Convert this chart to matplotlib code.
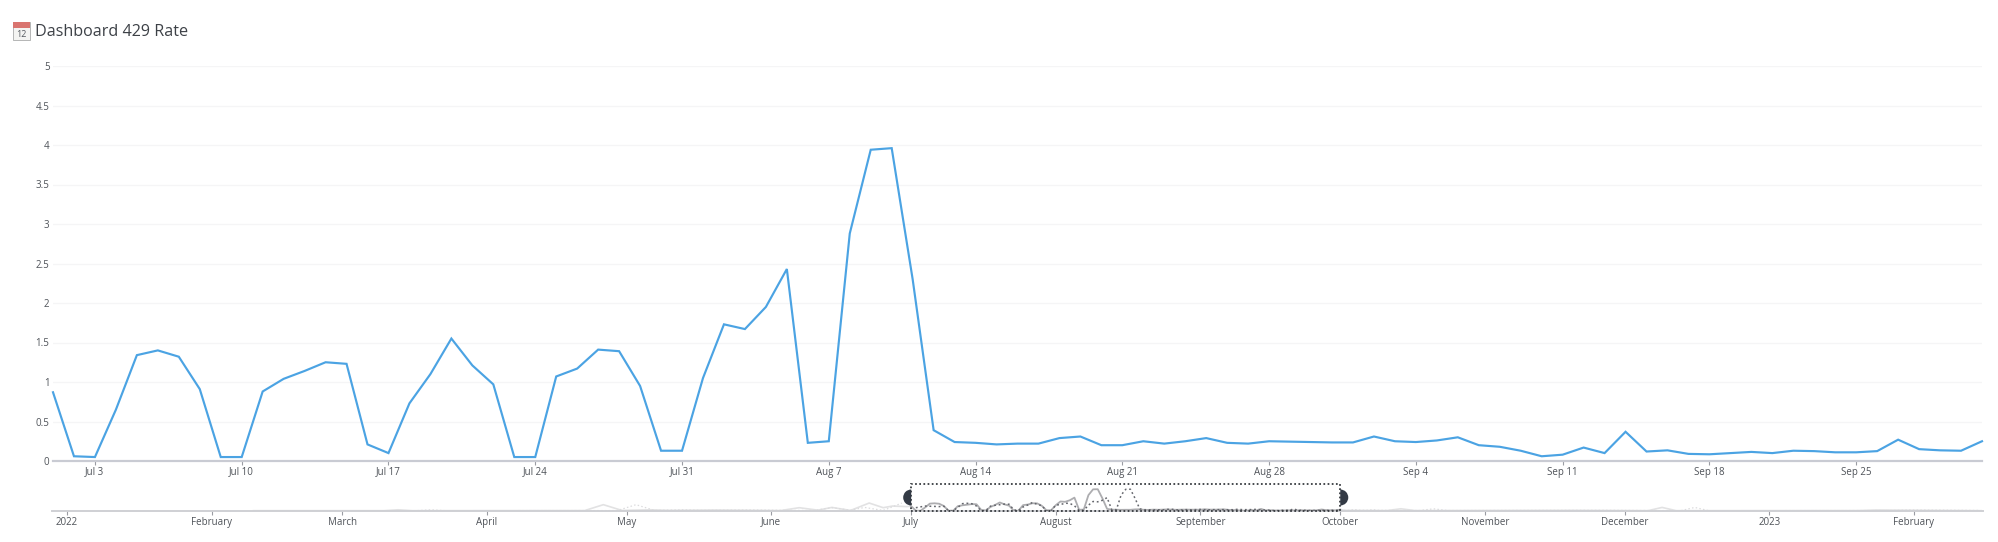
import datetime as dt
import matplotlib
matplotlib.use("Agg")
import matplotlib.pyplot as plt
import matplotlib.dates as mdates
from matplotlib.patches import Rectangle, Wedge
from matplotlib.transforms import IdentityTransform

plt.rcParams['font.family'] = ['Open Sans', 'DejaVu Sans']

# ---------- data ----------
start_date = "2022-07-01"
rate = [
    0.87, 0.06, 0.05, 0.65, 1.34, 1.40, 1.32, 0.91, 0.05, 0.05, 0.88, 1.04, 1.14, 1.25, 1.23, 0.21,
    0.10, 0.73, 1.10, 1.55, 1.21, 0.97, 0.05, 0.05, 1.07, 1.17, 1.41, 1.39, 0.95, 0.13, 0.13,
    1.05, 1.73, 1.67, 1.95, 2.43, 0.23, 0.25, 2.88, 3.94, 3.96, 2.30, 0.39, 0.24, 0.23, 0.21,
    0.22, 0.22, 0.29, 0.31, 0.20, 0.20, 0.25, 0.22, 0.25, 0.29, 0.23, 0.22, 0.25, 0.245, 0.24, 0.235,
    0.235, 0.31, 0.25, 0.24, 0.26, 0.30, 0.20, 0.18, 0.13, 0.06, 0.08, 0.17, 0.10, 0.37,
    0.12, 0.135, 0.09, 0.085, 0.10, 0.115, 0.10, 0.13, 0.125, 0.11, 0.11, 0.125, 0.27, 0.15, 0.135, 0.13, 0.25,
]
y_ticks = [0, 0.5, 1, 1.5, 2, 2.5, 3, 3.5, 4, 4.5, 5]
main_tick_dates = ["2022-07-03", "2022-07-10", "2022-07-17", "2022-07-24", "2022-07-31", "2022-08-07",
                   "2022-08-14", "2022-08-21", "2022-08-28", "2022-09-04", "2022-09-11", "2022-09-18", "2022-09-25"]
main_tick_labels = ["Jul 3", "Jul 10", "Jul 17", "Jul 24", "Jul 31", "Aug 7",
                    "Aug 14", "Aug 21", "Aug 28", "Sep 4", "Sep 11", "Sep 18", "Sep 25"]
nav_tick_dates = ["2022-01-01", "2022-02-01", "2022-03-01", "2022-04-01", "2022-05-01", "2022-06-01", "2022-07-01",
                  "2022-08-01", "2022-09-01", "2022-10-01", "2022-11-01", "2022-12-01", "2023-01-01", "2023-02-01"]
nav_tick_labels = ["2022", "February", "March", "April", "May", "June", "July",
                   "August", "September", "October", "November", "December", "2023", "February"]
nav_before_dates = ["2022-02-10", "2022-03-10", "2022-03-13", "2022-03-16", "2022-04-22", "2022-04-26", "2022-04-30",
                    "2022-05-06", "2022-05-10", "2022-05-20", "2022-06-03", "2022-06-07", "2022-06-11", "2022-06-14",
                    "2022-06-18", "2022-06-22", "2022-06-25", "2022-06-27", "2022-06-30"]
nav_before_values = [0.06, 0.06, 0.22, 0.06, 0.08, 1.15, 0.10,
                     0.22, 0.12, 0.18, 0.08, 0.60, 0.15, 0.65,
                     0.10, 1.45, 0.60, 0.90, 0.80]
nav_after_dates = ["2022-10-02", "2022-10-11", "2022-10-14", "2022-10-17", "2022-11-20", "2022-12-06", "2022-12-09",
                   "2022-12-12", "2023-01-20", "2023-01-24", "2023-02-15"]
nav_after_values = [0.12, 0.08, 0.40, 0.08, 0.12, 0.06, 0.65, 0.06, 0.08, 0.18, 0.06]
window_start = "2022-07-01"
window_end = "2022-10-01"
title = "Dashboard 429 Rate"


def d(s):
    return dt.datetime.strptime(s, "%Y-%m-%d")


W, H = 1999, 542
fig = plt.figure(figsize=(W / 100, H / 100), dpi=100, facecolor="white")


def px_axes(x0, x1, ytop, ybot):
    return fig.add_axes([x0 / W, 1 - ybot / H, (x1 - x0) / W, (ybot - ytop) / H])


TEXT = "#4f5359"
AXIS = "#c9cbd3"
LABEL_SIZE = 7

# ---------- main chart ----------
ax = px_axes(53, 1982, 66, 461)
dates = [d(start_date) + dt.timedelta(days=i) for i in range(len(rate))]
ax.plot(dates, rate, color="#4ba3e3", lw=1.55, solid_joinstyle="miter", clip_on=False, zorder=3)
ax.set_xlim(dates[0], dates[-1])
ax.set_ylim(0, 5)
ax.set_yticks(y_ticks)
ax.set_yticklabels([f"{v:g}" for v in y_ticks])
ax.grid(axis="y", color="#f5f5f6", lw=1)
ax.set_axisbelow(True)
ax.set_xticks([mdates.date2num(d(s)) for s in main_tick_dates])
ax.set_xticklabels(main_tick_labels)
for s in ("top", "left", "right"):
    ax.spines[s].set_visible(False)
ax.spines["bottom"].set_color(AXIS)
ax.spines["bottom"].set_linewidth(1.6)
ax.tick_params(axis="y", length=0, pad=2.5, labelsize=LABEL_SIZE, labelcolor=TEXT)
ax.tick_params(axis="x", length=3, width=0.8, color="#9a9ca3", pad=1.0, labelsize=LABEL_SIZE, labelcolor=TEXT)

# ---------- navigator ----------
nav = px_axes(52, 1983, 484, 511)
all_dates = [d(s) for s in nav_before_dates] + dates + [d(s) for s in nav_after_dates]
all_values = nav_before_values + rate + nav_after_values
shifted_dates = [t + dt.timedelta(days=7) for t in all_dates]
ws, we = d(window_start), d(window_end)
ws_n, we_n = mdates.date2num(ws), mdates.date2num(we)
jan1 = mdates.date2num(d("2022-01-01"))
per_day = 4.664
nav.set_xlim(jan1 - 15 / per_day, jan1 + (1983 - 67) / per_day)
nav.set_ylim(0, 27 / 5.5)


def draw_nav(xs, ys, inside_kw, outside_kw):
    n = len(xs)
    lo = [i for i in range(n) if xs[i] <= ws]
    mid = [i for i in range(n) if ws <= xs[i] <= we]
    hi = [i for i in range(n) if xs[i] >= we]
    nav.plot([xs[i] for i in lo], [ys[i] for i in lo], **outside_kw)
    nav.plot([xs[i] for i in hi], [ys[i] for i in hi], **outside_kw)
    nav.plot([xs[i] for i in mid], [ys[i] for i in mid], **inside_kw)


draw_nav(all_dates, all_values,
         dict(color="#adadb0", lw=1.3, zorder=3),
         dict(color="#e2e2e3", lw=1.2, zorder=2))
draw_nav(shifted_dates, all_values,
         dict(color="#66686e", lw=1.1, ls=(0, (1.2, 1.8)), zorder=4),
         dict(color="#dcdcde", lw=0.9, ls=(0, (1.2, 1.8)), zorder=2))

nav.set_yticks([])
nav.set_xticks([mdates.date2num(d(s)) for s in nav_tick_dates])
nav.set_xticklabels(nav_tick_labels)
for s in ("top", "left", "right"):
    nav.spines[s].set_visible(False)
nav.spines["bottom"].set_color("#cfd0d4")
nav.spines["bottom"].set_linewidth(1.4)
nav.tick_params(axis="x", length=3, width=0.8, color="#9a9ca3", pad=1.0, labelsize=LABEL_SIZE, labelcolor=TEXT)
nav.patch.set_alpha(0)

nav.add_patch(Rectangle((ws_n, 0), we_n - ws_n, 27 / 5.5, fill=False, edgecolor="#2f3338",
                        lw=1.25, ls=(0, (1, 1.4)), clip_on=False, zorder=6))
for xval, t1, t2 in ((ws_n, 90, 270), (we_n, 270, 90)):
    px = nav.transData.transform((xval, 0))[0]
    fig.add_artist(Wedge((px, H - 497.5), 8, t1, t2, facecolor="#333a45", edgecolor="none",
                         transform=IdentityTransform(), zorder=7))

# ---------- title and icon ----------
fig.text(35 / W, 1 - 31.5 / H, title, fontsize=11.6, color="#3d4147", va="center", ha="left")
ix, iy, iw, ih = 13, 22, 17, 18
fig.add_artist(Rectangle((ix / W, 1 - (iy + ih) / H), iw / W, ih / H, transform=fig.transFigure,
                         facecolor="#f4f4f2", edgecolor="#a9abab", lw=0.6))
fig.add_artist(Rectangle((ix / W, 1 - (iy + 6) / H), iw / W, 6 / H, transform=fig.transFigure,
                         facecolor="#d9746f", edgecolor="none"))
fig.text((ix + iw / 2) / W, 1 - (iy + 12.5) / H, "12", fontsize=6.5, color="#55595f", ha="center", va="center")

fig.savefig("out.png", dpi=100, facecolor="white")
